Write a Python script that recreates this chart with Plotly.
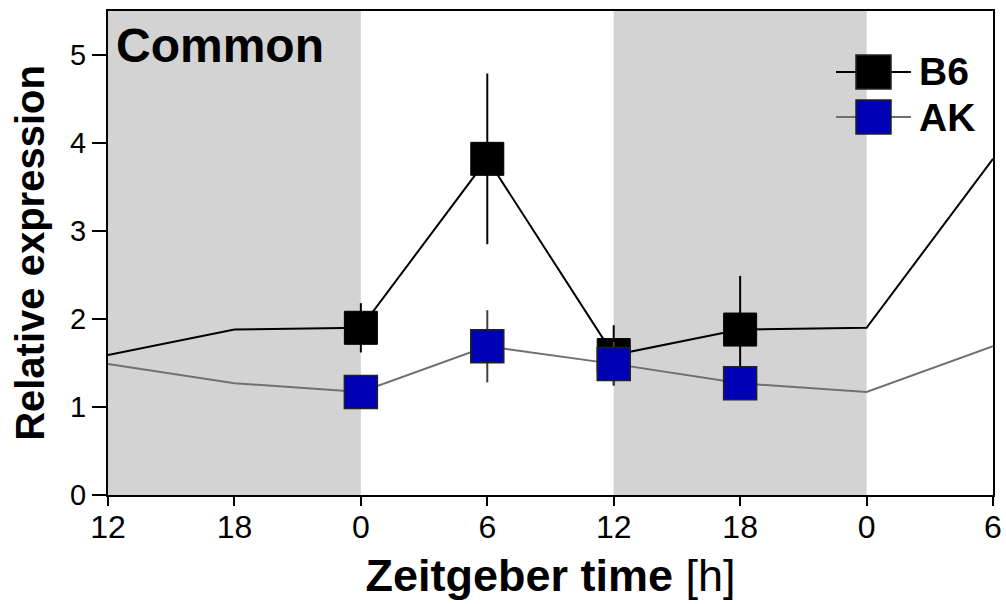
import plotly.graph_objects as go

# ---- data ----
zt_points = [0, 6, 12, 18]                 # sampled Zeitgeber times
b6_mean = [1.90, 3.82, 1.59, 1.88]
b6_sem = [0.28, 0.97, 0.34, 0.61]
ak_mean = [1.17, 1.69, 1.49, 1.27]
ak_sem = [0.10, 0.41, 0.25, 0.10]

tick_pos = [0, 6, 12, 18, 24, 30, 36, 42]   # hours along axis (starts at ZT12)
tick_text = ['12', '18', '0', '6', '12', '18', '0', '6']
dark_periods = [(0, 12), (24, 36)]

# double-plotted line: ZT12, ZT18 (prev day), ZT0..ZT18, ZT0, ZT6 (next day)
order = [2, 3, 0, 1, 2, 3, 0, 1]
b6_line = [b6_mean[i] for i in order]
ak_line = [ak_mean[i] for i in order]
marker_x = [z + 12 for z in zt_points]

FONT = "Liberation Sans, Arial, sans-serif"
BLUE = "#0000B4"

fig = go.Figure()
fig.add_trace(go.Scatter(x=tick_pos, y=b6_line, mode='lines',
                         line=dict(color='black', width=2), showlegend=False))
fig.add_trace(go.Scatter(x=marker_x, y=b6_mean, mode='markers',
                         marker=dict(symbol='square', size=33, color='black',
                                     line=dict(color='black', width=1)),
                         error_y=dict(type='data', array=b6_sem, color='black',
                                      thickness=2, width=0),
                         showlegend=False))
fig.add_trace(go.Scatter(x=tick_pos, y=ak_line, mode='lines',
                         line=dict(color='#707070', width=2), showlegend=False))
fig.add_trace(go.Scatter(x=marker_x, y=ak_mean, mode='markers',
                         marker=dict(symbol='square', size=33, color=BLUE,
                                     line=dict(color='#222222', width=1.5)),
                         error_y=dict(type='data', array=ak_sem, color='#404040',
                                      thickness=2, width=0),
                         showlegend=False))

shapes = []
for a, b in dark_periods:
    shapes.append(dict(type='rect', xref='x', yref='paper', x0=a, x1=b, y0=0, y1=1,
                       fillcolor='#d3d3d3', line=dict(width=0), layer='below'))

# custom legend (paper coords)
L, R, T, B = 108, 993, 11, 495
def px(x):
    return (x - L) / (R - L)
def py(y):
    return (B - y) / (B - T)

for yc, fill, lc, name in [(72, 'black', 'black', 'B6'), (117, BLUE, '#707070', 'AK')]:
    shapes.append(dict(type='line', xref='paper', yref='paper', x0=px(836), x1=px(911),
                       y0=py(yc), y1=py(yc), line=dict(color=lc, width=2)))
    shapes.append(dict(type='rect', xref='paper', yref='paper', x0=px(856), x1=px(891),
                       y0=py(yc - 17), y1=py(yc + 17), fillcolor=fill,
                       line=dict(color='#222222', width=1.5)))

annotations = [
    dict(text='<b>B6</b>', xref='paper', yref='paper', x=px(917), y=py(72),
         xanchor='left', yanchor='middle', showarrow=False,
         font=dict(family=FONT, size=39, color='black')),
    dict(text='<b>AK</b>', xref='paper', yref='paper', x=px(917), y=py(117),
         xanchor='left', yanchor='middle', showarrow=False,
         font=dict(family=FONT, size=39, color='black')),
    dict(text='<b>Common</b>', xref='paper', yref='paper', x=px(114), y=py(17),
         xanchor='left', yanchor='top', showarrow=False,
         font=dict(family=FONT, size=48, color='black')),
]

fig.update_layout(
    width=1006, height=604,
    margin=dict(l=L, r=1006 - R, t=T, b=604 - B),
    plot_bgcolor='white', paper_bgcolor='white',
    font=dict(family=FONT, color='black'),
    shapes=shapes, annotations=annotations,
    xaxis=dict(range=[0, 42], tickvals=tick_pos, ticktext=tick_text,
               ticks='outside', ticklen=9, tickwidth=2, tickcolor='black',
               showline=True, linecolor='black', linewidth=2, mirror=True,
               showgrid=False, zeroline=False, automargin=False,
               ticklabelstandoff=-6,
               tickfont=dict(family=FONT, size=32),
               title=dict(text='<b>Zeitgeber time</b> [h]', standoff=15,
                          font=dict(family=FONT, size=45))),
    yaxis=dict(range=[0, 5.5], tickvals=[0, 1, 2, 3, 4, 5],
               ticks='outside', ticklen=14, tickwidth=2, tickcolor='black',
               showline=True, linecolor='black', linewidth=2, mirror=True,
               showgrid=False, zeroline=False, automargin=False,
               tickfont=dict(family=FONT, size=29),
               title=dict(text='<b>Relative expression</b>', standoff=13,
                          font=dict(family=FONT, size=40))),
)

fig.write_html("out.html", config={'displayModeBar': False},
               post_script="document.body.style.margin='0';document.body.style.padding='0';")
